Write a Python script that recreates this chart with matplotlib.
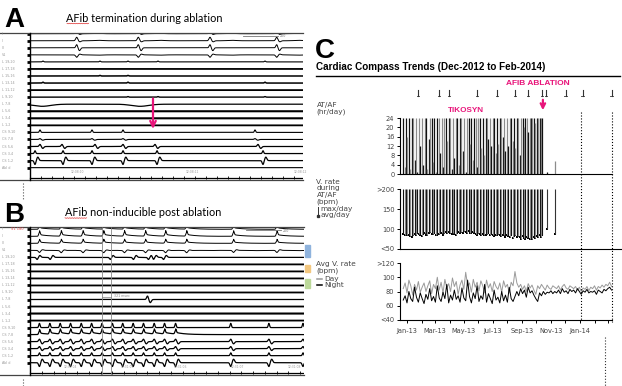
import numpy as np
import pandas as pd
import matplotlib
matplotlib.use('Agg')
import matplotlib.pyplot as plt
from matplotlib.patches import Rectangle

plt.rcParams['font.family'] = 'DejaVu Sans'

W, H = 622, 386
MAGENTA = '#e8157a'

# ---------------- panels A / B : intracardiac tracings (times in ms) ----------------
LEADS = ['I', 'II', 'III', 'V1', 'L 19,20', 'L 17,18', 'L 15,16', 'L 13,14',
         'L 11,12', 'L 9,10', 'L 7,8', 'L 5,6', 'L 3,4', 'L 1,2',
         'CS 9,10', 'CS 7,8', 'CS 5,6', 'CS 3,4', 'CS 1,2', 'Abl d']

A_SINUS = [467, 1083, 1800, 2467]
A_LASSO_FAR = [130, 700, 980, 1280, 2350]
A_L78_WAVES = [120, 1100]
A_CS_DISTAL = [100, 620, 930, 2250]
A_CS_MID = [100, 320, 650, 930, 1250, 2280]
A_CS_PROX = [50, 330, 620, 930, 1270, 2330]
A_TERMINATION = 1230
A_STAMPS = ['12:08:10', '12:08:11', '12:08:12']
A_STAMP_TIMES = [470, 1620, 2700]

B_SURFACE = [93, 310, 527, 733, 940, 1150, 1350, 1560, 2027, 2460]
B_PACING = [93, 197, 300, 403, 510, 613, 717, 820, 923, 1027, 1130, 1237, 1340, 1450]
B_CS_AFTER = [2000, 2380, 2720]
B_LASSO = [70, 200, 800, 1030, 1180, 1230, 1330]
B_L78 = [1170]
B_CALIPER = [720, 810]
B_STAMPS = ['12:31:04', '12:31:05', '12:31:06', '12:31:07', '12:31:08']
B_STAMP_TIMES = [400, 970, 1500, 2070, 2630]

# ---------------- panel C : Cardiac Compass trends ----------------
ORIGIN = pd.Timestamp('2013-01-01')
TRANSMISSIONS = ['2013-01-24', '2013-03-10', '2013-03-31', '2013-05-29', '2013-07-10',
                 '2013-08-17', '2013-09-13', '2013-10-13', '2013-10-21', '2013-12-02',
                 '2014-01-07', '2014-03-09']
ABLATION = '2013-10-15'
TIKOSYN = '2013-05-05'
FOLLOWUPS = ['2014-01-03', '2014-03-10']

# AT/AF burden, hours/day, every 3rd day from 24-Dec-2012
AF_START = '2012-12-24'
AF_HOURS = [
    24, 3, 24, 16, 24, 2, 24, 24, 6, 24,
    1, 24, 12, 24, 4, 24, 24, 2, 15, 24,
    24, 5, 24, 1, 24, 24, 9, 24, 3, 24,
    24, 14, 24, 24, 2, 24, 7, 24, 24, 4,
    24, 24, 10, 24, 1, 24, 24, 13, 24, 6,
    24, 24, 3, 24, 24, 11, 24, 8, 24, 24,
    15, 24, 12, 24, 24, 9, 24, 13, 24, 24,
    16, 24, 10, 24, 12, 24, 24, 14, 24, 11,
    24, 24, 8, 24, 24, 20, 24, 24, 18, 24,
    24, 24, 24, 22, 24, 24, 24, 24, 24]
POST_AF_DATES = ['2013-10-23', '2013-11-09']
POST_AF_HOURS = [1, 5.5]

# V. rate during AT/AF: avg/day (max/day runs off the >200 scale)
VR_AVG = [
    88, 85, 87, 84, 86, 83, 80, 84, 88, 86,
    90, 87, 84, 82, 88, 91, 86, 84, 89, 92,
    88, 87, 90, 85, 84, 88, 91, 89, 86, 90,
    92, 89, 93, 90, 88, 91, 87, 85, 89, 92,
    90, 93, 91, 95, 92, 90, 94, 91, 89, 92,
    90, 88, 86, 89, 87, 85, 88, 86, 84, 87,
    89, 86, 88, 85, 83, 86, 84, 88, 85, 82,
    86, 84, 81, 85, 83, 80, 84, 78, 82, 85,
    80, 83, 79, 76, 82, 78, 74, 80, 77, 75,
    79, 76, 80, 78, 82, 79, 84, 81, 86]
VR_MAX = 200
POST_VR_AVG = [100, 88]

# Avg V. rate (bpm), every 4th day from 24-Dec-2012
RATE_START = '2012-12-24'
DAY_RATE = [
    84, 92, 78, 96, 88, 75, 90, 82, 94, 79,
    86, 92, 80, 88, 95, 77, 90, 84, 100, 82,
    93, 78, 97, 85, 91, 80, 99, 87, 94, 76,
    89, 96, 83, 107, 88, 92, 79, 97, 86, 93,
    81, 95, 88, 78, 96, 85, 91, 80, 94, 87,
    83, 92, 79, 95, 86, 90, 78, 93, 88, 108,
    92, 86, 90, 83, 88, 80, 91, 85, 89, 82,
    76, 88, 84, 90, 86, 82, 89, 85, 83, 88,
    86, 84, 88, 82, 87, 90, 85, 83, 88, 86,
    84, 87, 82, 86, 80, 85, 83, 87, 81, 86,
    84, 88, 82, 87, 85, 89, 86, 90, 88, 93, 87]
NIGHT_RATE = [
    68, 74, 64, 80, 70, 66, 86, 72, 65, 78,
    70, 63, 76, 69, 84, 67, 73, 65, 88, 71,
    66, 79, 70, 90, 64, 75, 68, 82, 69, 74,
    65, 85, 71, 67, 96, 73, 64, 78, 70, 88,
    66, 74, 69, 90, 65, 77, 70, 63, 82, 68,
    72, 64, 80, 67, 75, 65, 86, 70, 66, 73,
    80, 74, 84, 77, 82, 72, 86, 78, 81, 75,
    70, 66, 78, 74, 80, 76, 79, 78, 81, 77,
    80, 78, 82, 77, 84, 79, 81, 77, 83, 80,
    82, 78, 84, 80, 76, 81, 79, 83, 78, 80,
    79, 81, 76, 82, 80, 78, 83, 81, 84, 86, 82]

# ------------------------------------------------------------------
fig = plt.figure(figsize=(W / 100, H / 100), dpi=100)


def px_axes(x0, y0, x1, y1):
    ax = fig.add_axes([x0 / W, 1 - y1 / H, (x1 - x0) / W, (y1 - y0) / H])
    ax.patch.set_visible(False)
    return ax


bg = px_axes(0, 0, W, H)
bg.set_xlim(0, W)
bg.set_ylim(H, 0)
bg.axis('off')

SHAPES = {
    'qrs': lambda t: np.exp(-(t / 14) ** 2) - 0.3 * np.exp(-((t - 32) / 16) ** 2)
    + 0.12 * np.exp(-((t - 220) / 60) ** 2),
    'biph': lambda t: np.exp(-(t / 12) ** 2) - 0.9 * np.exp(-((t - 28) / 14) ** 2),
    'spike': lambda t: np.exp(-(t / 9) ** 2),
    'paced': lambda t: np.exp(-(t / 10) ** 2) + 0.45 * (t > 0) * np.exp(-np.clip(t, 0, None) / 90),
    'wave': lambda t: np.exp(-(t / 120) ** 2),
}

FLAT = ([], 0, 'spike', 1.3)
A_ROWS = [
    (A_SINUS, 0.35, 'qrs', 0.7),
    (A_SINUS, 0.5, 'qrs', 0.7),
    (A_SINUS, 0.45, 'biph', 0.7),
    (A_SINUS, -0.35, 'qrs', 0.7),
    (A_LASSO_FAR, 0.12, 'spike', 0.8),
    FLAT,
    (A_LASSO_FAR[1:3], 0.08, 'spike', 1.1),
    (A_LASSO_FAR[::2], 0.12, 'spike', 1.1),
    FLAT,
    (A_LASSO_FAR[2:], 0.08, 'spike', 1.0),
    (A_L78_WAVES, -0.3, 'wave', 0.9),
    ([], 0, 'spike', 1.5),
    ([], 0, 'spike', 1.5),
    FLAT,
    (A_CS_DISTAL, 0.35, 'spike', 0.8),
    (A_CS_DISTAL, 0.12, 'biph', 0.8),
    (A_CS_MID, 0.3, 'biph', 0.9),
    (A_CS_PROX, 0.4, 'spike', 0.9),
    (A_CS_PROX, -0.55, 'biph', 0.9),
    ([], 0, 'spike', 0.8),
]
B_ROWS = [
    (B_SURFACE, 0.5, 'paced', 0.7),
    (B_SURFACE, 0.55, 'paced', 0.7),
    (B_SURFACE, 0.4, 'paced', 0.7),
    (B_SURFACE, -0.3, 'qrs', 0.7),
    (B_LASSO, -0.3, 'biph', 0.9),
    FLAT, FLAT, FLAT, FLAT, FLAT,
    (B_L78, 0.5, 'biph', 0.9),
    FLAT, ([], 0, 'spike', 1.5), FLAT,
    (B_PACING + B_CS_AFTER, 0.6, 'spike', 0.9),
    (B_PACING, 0.5, 'paced', 0.9),
    (B_PACING + B_CS_AFTER, 0.35, 'biph', 0.9),
    (B_PACING + B_CS_AFTER, 0.3, 'biph', 0.9),
    (B_PACING + B_CS_AFTER, 0.4, 'spike', 0.9),
    (B_PACING + B_CS_AFTER, -0.55, 'biph', 0.9),
]


def ecg_panel(x1, y0, y1, row0, pitch, rows, axis_px, tick_step, stamps, stamp_times):
    ax = px_axes(0, y0, x1, y1)
    ax.set_xlim(-300, 2730)
    ytop, ybot = (y0 - row0) / pitch, (y1 - row0) / pitch
    ax.set_ylim(ybot, ytop)
    ax.axis('off')
    t = np.arange(0, 2731)
    for r, (beats, amp, shape, lw) in enumerate(rows):
        sig = np.zeros(len(t))
        for b in beats:
            sig += amp * SHAPES[shape](t - b)
        ax.plot(t, r - sig, color='black', lw=lw)
        ax.text(-285, r, LEADS[r], fontsize=2.4, color='#9a9a9a', va='center')
        ax.plot([-28, -4], [r, r], color='black', lw=2.0, solid_capstyle='butt')
    # frame
    ax.plot([-300, 2730], [ytop, ytop], color='#444', lw=0.9, clip_on=False)
    ax.plot([-300, 2730], [ybot, ybot], color='#444', lw=0.9, clip_on=False)
    ax.plot([0, 0], [ytop, ybot], color='black', lw=1.0, clip_on=False)
    # time axis
    ra = (axis_px - row0) / pitch
    ax.plot([0, 2730], [ra, ra], color='black', lw=0.9)
    ax.vlines(np.arange(tick_step, 2730, tick_step), ra - 0.2, ra + 0.2, color='black', lw=0.6)
    for st, s in zip(stamp_times, stamps):
        ax.text(st, ra - 0.55, s, fontsize=2.2, color='#999', ha='center', va='bottom')
    return ax


ax_a = ecg_panel(303, 32.5, 180, 33.7, 7.05, A_ROWS, 177.5, 110, A_STAMPS, A_STAMP_TIMES)
ax_a.annotate('', xy=(A_TERMINATION, 13.9), xytext=(A_TERMINATION, 8.8),
              arrowprops=dict(arrowstyle='->', color=MAGENTA, lw=1.6, mutation_scale=10))
ax_a.plot([2130, 2480], [0.35, 0.35], color='#777', lw=0.6)
ax_a.text(2500, 0.35, '200', fontsize=2.3, color='#777', va='center')

ax_b = ecg_panel(304, 227, 375, 229.3, 7.02, B_ROWS, 372.7, 117, B_STAMPS, B_STAMP_TIMES)
yl = ax_b.get_ylim()
ax_b.vlines(B_CALIPER, yl[1], yl[0], color='#888', lw=0.6)
ax_b.plot(B_CALIPER, [9.65, 9.65], color='#888', lw=0.5)
ax_b.text(B_CALIPER[1] + 25, 9.55, '321 msec', fontsize=2.3, color='#888', va='center')
ax_b.plot([2150, 2500], [0.15, 0.15], color='#777', lw=0.6)
ax_b.text(2520, 0.2, '200', fontsize=2.3, color='#777', va='center')
ax_b.text(-190, 0.0, 'S1 180', fontsize=2.6, color='#e05050', va='center')

# panel letters and titles
bg.text(4, 26.7, 'A', fontsize=20, fontweight='bold', family='Liberation Sans', va='baseline')
bg.text(4, 221.7, 'B', fontsize=20, fontweight='bold', family='Liberation Sans', va='baseline')
bg.text(315, 58, 'C', fontsize=20, fontweight='bold', family='Liberation Sans', va='baseline')
bg.text(66.5, 21.5, 'AFib termination during ablation', fontsize=7.8, family='Lato', va='baseline')
bg.text(65, 216, 'AFib non-inducible post ablation', fontsize=7.8, family='Lato', va='baseline')
for x0, yb in [(67, 23.3), (65, 217.8)]:
    wx = np.arange(x0, x0 + 22, 1.2)
    bg.plot(wx, yb + 0.5 * (np.arange(len(wx)) % 2), color='#e03030', lw=0.5)
bg.plot([23, 23], [183, 199], ls=':', color='#555', lw=0.8)
bg.plot([23, 23], [379, 386], ls=':', color='#555', lw=0.8)
bg.add_patch(Rectangle((305, 245), 5, 12, color='#8fb3dd'))
bg.add_patch(Rectangle((305, 265), 5, 7, color='#f3c77f'))
bg.add_patch(Rectangle((305, 279), 5, 9, color='#bcd99a'))

# ---------------- panel C ----------------
JAN13_PX, PX_PER_DAY = 407, 0.4735


def px_to_day(px):
    return (px - JAN13_PX) / PX_PER_DAY


def day_of(s):
    return (pd.Timestamp(s) - ORIGIN).days


def trend_axes(x1, y0, y1, ylim, ticks, labels):
    ax = px_axes(400, y0, x1, y1)
    ax.set_xlim(px_to_day(400), px_to_day(x1))
    ax.set_ylim(*ylim)
    ax.spines['top'].set_visible(False)
    ax.spines['right'].set_visible(False)
    ax.spines['left'].set_linewidth(0.8)
    ax.spines['bottom'].set_linewidth(0.8)
    ax.set_yticks(ticks)
    ax.set_yticklabels(labels)
    ax.tick_params(axis='y', length=2.5, width=0.7, pad=1.5, labelsize=4.8, labelcolor='#444')
    ax.set_xticks([])
    return ax


bg.text(315.5, 70, 'Cardiac Compass Trends (Dec-2012 to Feb-2014)', fontsize=7.1,
        fontweight='bold', family='Liberation Sans', va='baseline')
bg.plot([316, 620], [75.5, 75.5], color='black', lw=1.0)

af_days = (pd.date_range(AF_START, periods=len(AF_HOURS), freq='3D') - ORIGIN).days
bar_colors = ['#111111' if i % 2 == 0 else '#8c8c8c' for i in range(len(AF_HOURS))]
post_days = [day_of(d) for d in POST_AF_DATES]

ax_af = trend_axes(612, 118, 174, (0, 24), range(0, 25, 4), [str(v) for v in range(0, 25, 4)])
ax_af.vlines(af_days, 0, AF_HOURS, colors=bar_colors, lw=0.9)
ax_af.vlines(post_days, 0, POST_AF_HOURS, colors=['#111111', '#8c8c8c'], lw=0.9)

ax_vr = trend_axes(622, 189, 249, (50, 200), [50, 100, 150, 200], ['<50', '100', '150', '>200'])
ax_vr.vlines(af_days, VR_AVG, VR_MAX, colors=bar_colors, lw=0.8)
ax_vr.scatter(af_days, VR_AVG, s=1.6, marker='s', color='black', lw=0)
ax_vr.vlines(post_days, POST_VR_AVG, VR_MAX, colors='#333', lw=0.8)
ax_vr.scatter(post_days, POST_VR_AVG, s=1.6, marker='s', color='black', lw=0)

rate_days = (pd.date_range(RATE_START, periods=len(DAY_RATE), freq='4D') - ORIGIN).days
ax_avg = trend_axes(612, 263, 320, (40, 120), [40, 60, 80, 100, 120], ['<40', '60', '80', '100', '>120'])
ax_avg.plot(rate_days, DAY_RATE, color='#9a9a9a', lw=0.7)
ax_avg.plot(rate_days, NIGHT_RATE, color='black', lw=0.7)
months = pd.date_range('2013-01-01', '2014-03-01', freq='MS')
ax_avg.set_xticks((months - ORIGIN).days)
ax_avg.set_xticklabels([m.strftime('%b-%y') if i % 2 == 0 and m.year * 12 + m.month <= 2014 * 12 + 1 else ''
                        for i, m in enumerate(months)])
ax_avg.tick_params(axis='x', length=2.5, width=0.7, pad=3, labelsize=4.8, labelcolor='#444')

# overlay spanning the trends for markers, arrow and follow-up lines
ov = px_axes(400, 78, 622, 386)
ov.set_xlim(px_to_day(400), px_to_day(622))
ov.set_ylim(386, 78)
ov.axis('off')
for d in TRANSMISSIONS:
    x = day_of(d)
    ov.plot([x, x], [89.5, 96], color='#333', lw=0.8)
    ov.plot([x - 2.5, x + 2.5], [96, 96], color='#333', lw=0.6)
ov.vlines(day_of(FOLLOWUPS[0]), 112, 320, color='black', lw=0.8, linestyles=':')
ov.vlines(day_of(FOLLOWUPS[1]), 112, 322, color='black', lw=0.8, linestyles=':')
ov.annotate('', xy=(day_of(ABLATION), 113), xytext=(day_of(ABLATION), 97),
            arrowprops=dict(arrowstyle='->', color=MAGENTA, lw=1.6, mutation_scale=8))
ov.text(day_of(ABLATION) - 10, 85, 'AFIB ABLATION', fontsize=6, fontweight='bold', color=MAGENTA,
        family='Liberation Sans', ha='center', va='baseline')
ov.text(day_of(TIKOSYN), 111.7, 'TIKOSYN', fontsize=5.9, fontweight='bold', color=MAGENTA,
        family='Liberation Sans', ha='center', va='baseline')
bg.plot([605, 605], [337, 386], ls=':', color='#333', lw=0.8)

# left-hand captions of the trends, one line at a time
cap = dict(fontsize=5.3, color='#444', va='center')
for y, s in [(104.5, 'AT/AF'), (111.3, '(hr/day)'),
             (181.7, 'V. rate'), (188.4, 'during'), (195.1, 'AT/AF'), (201.8, '(bpm)'),
             (264, 'Avg V. rate'), (270.7, '(bpm)')]:
    bg.text(316.5, y, s, **cap)
bg.text(320.5, 208.5, 'max/day', **cap)
bg.text(320.5, 215.2, 'avg/day', **cap)
bg.plot([318.2, 318.2], [207, 215], color='#333', lw=0.7)
bg.plot([318.2], [216], marker='s', ms=1.4, color='#333')
bg.plot([316.5, 322], [278.5, 278.5], color='#999', lw=1.1)
bg.plot([316.5, 322], [285.2, 285.2], color='black', lw=1.1)
bg.text(324, 278.5, 'Day', **cap)
bg.text(324, 285.2, 'Night', **cap)

fig.savefig('out.png', dpi=100)
